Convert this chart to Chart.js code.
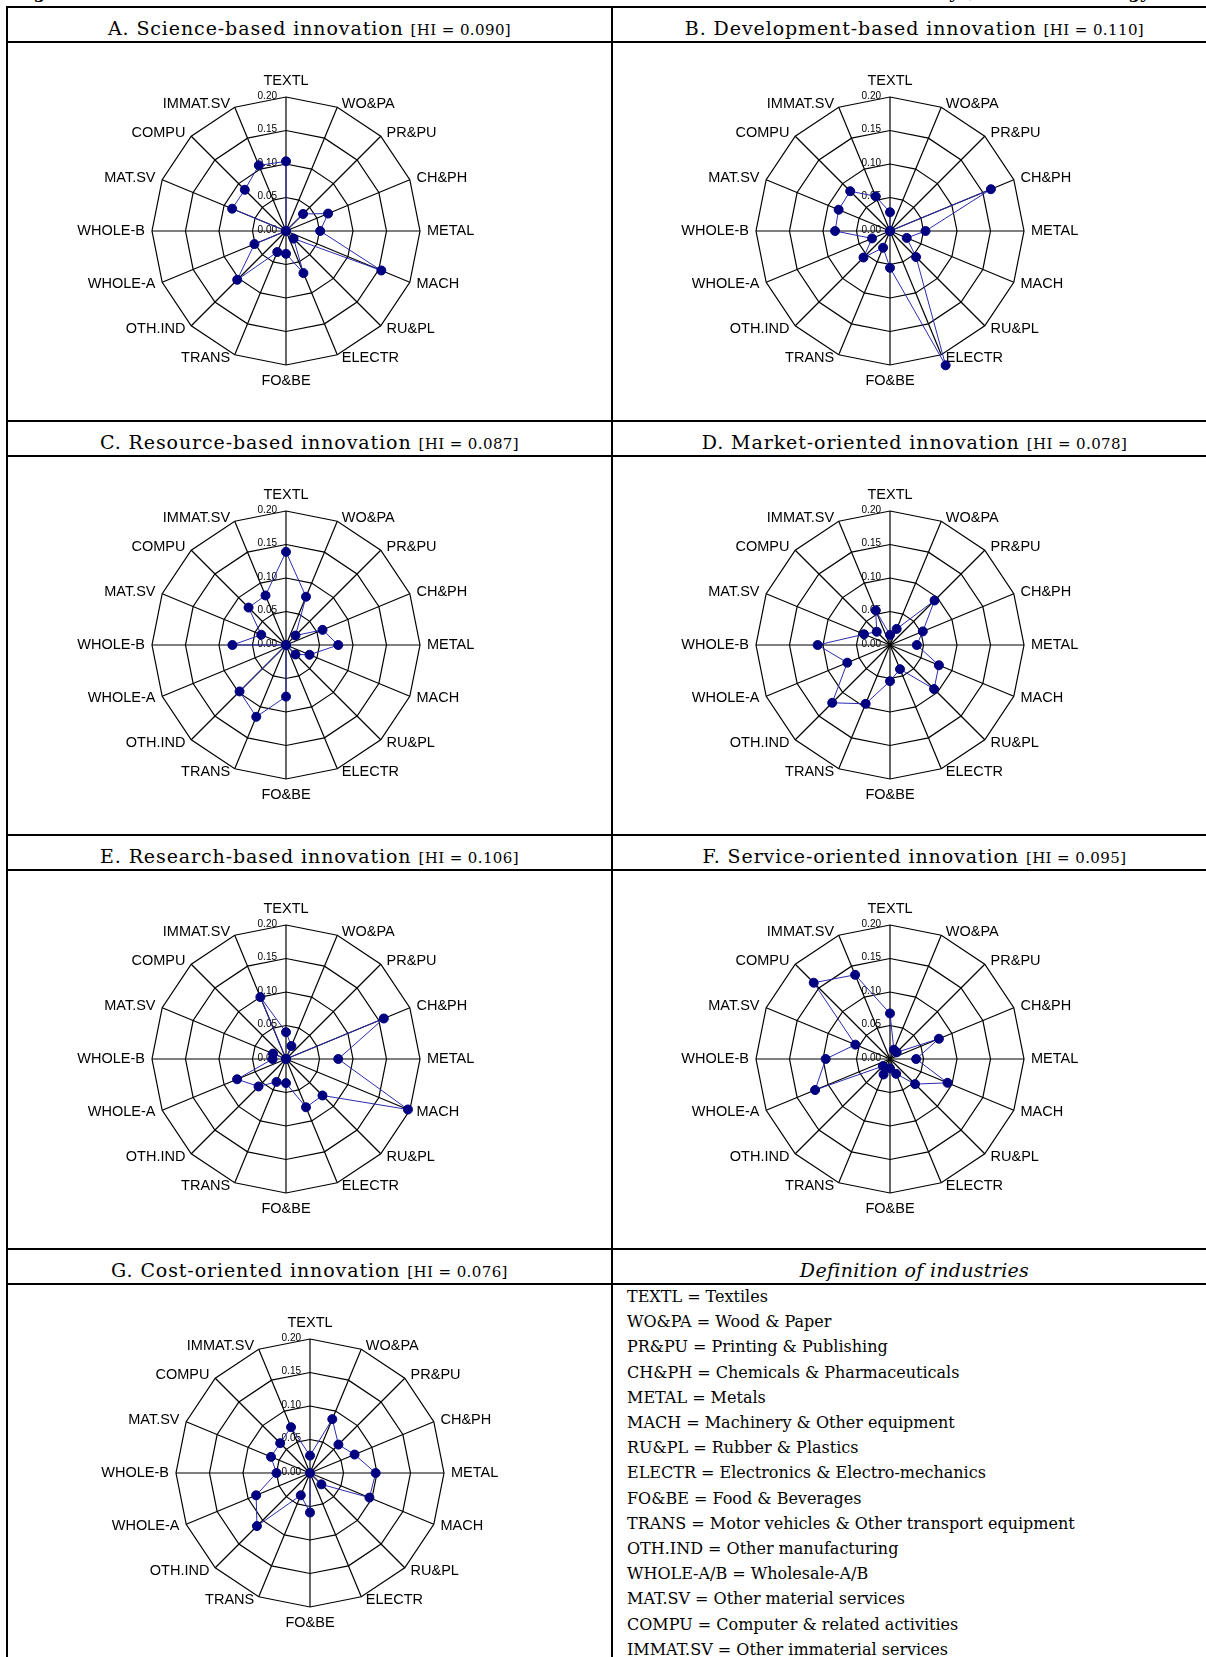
<!DOCTYPE html>
<html>
<head>
<meta charset="utf-8">
<script src="https://cdn.jsdelivr.net/npm/chart.js@4.4.1/dist/chart.umd.min.js"></script>
<style>
body { margin: 0; width: 1206px; height: 1657px; overflow: hidden; background: #fff; position: relative; font-family: "DejaVu Serif", serif; color: #000; }
.hline { position: absolute; left: 6px; width: 1220px; height: 2px; background: #000; }
.vline { position: absolute; width: 2px; background: #000; }
.hdr { position: absolute; height: 33px; line-height: 33px; text-align: center; font-size: 19px; letter-spacing: 0.9px; white-space: nowrap; }
.hdr small { font-size: 15px; line-height: 1; letter-spacing: 0.4px; }
canvas { position: absolute; }
#title { position: absolute; left: 0; top: -18px; width: 1206px; height: 24px; font-size: 17px; font-weight: bold; line-height: 20px; white-space: nowrap; }
#tl { position: absolute; left: 15px; width: 960px; text-align: justify; text-align-last: justify; display: inline-block; }
#tr { position: absolute; right: 56px; }
.legend { position: absolute; left: 627px; top: 1284px; font-size: 16px; line-height: 25.2px; white-space: nowrap; }
</style>
</head>
<body>
<div id="title"><span id="tl">Figure 2. Sectoral distribution of the innovative firms in the seven innovation modes,</span><span id="tr">by innovation strategy</span></div>

<div class="vline" style="left:6px; top:6px; height:1660px;"></div>
<div class="vline" style="left:611px; top:6px; height:1660px;"></div>
<div class="hline" style="top:6px;"></div>
<div class="hline" style="top:41px;"></div>
<div class="hline" style="top:420px;"></div>
<div class="hline" style="top:455px;"></div>
<div class="hline" style="top:834px;"></div>
<div class="hline" style="top:869px;"></div>
<div class="hline" style="top:1248px;"></div>
<div class="hline" style="top:1283px;"></div>

<div class="hdr" style="left:8px; width:603px; top:12px;">A. Science-based innovation <small>[HI = 0.090]</small></div>
<div class="hdr" style="left:613px; width:603px; top:12px;">B. Development-based innovation <small>[HI = 0.110]</small></div>
<div class="hdr" style="left:8px; width:603px; top:426px;">C. Resource-based innovation <small>[HI = 0.087]</small></div>
<div class="hdr" style="left:613px; width:603px; top:426px;">D. Market-oriented innovation <small>[HI = 0.078]</small></div>
<div class="hdr" style="left:8px; width:603px; top:840px;">E. Research-based innovation <small>[HI = 0.106]</small></div>
<div class="hdr" style="left:613px; width:603px; top:840px;">F. Service-oriented innovation <small>[HI = 0.095]</small></div>
<div class="hdr" style="left:8px; width:603px; top:1254px;">G. Cost-oriented innovation <small>[HI = 0.076]</small></div>
<div class="hdr" style="left:613px; width:603px; top:1254px; font-style:italic; letter-spacing:0.3px;">Definition of industries</div>

<canvas id="chartA"></canvas>
<canvas id="chartB"></canvas>
<canvas id="chartC"></canvas>
<canvas id="chartD"></canvas>
<canvas id="chartE"></canvas>
<canvas id="chartF"></canvas>
<canvas id="chartG"></canvas>

<div class="legend" id="legend"></div>

<script>
const industries = ['TEXTL', 'WO&PA', 'PR&PU', 'CH&PH', 'METAL', 'MACH', 'RU&PL', 'ELECTR',
    'FO&BE', 'TRANS', 'OTH.IND', 'WHOLE-A', 'WHOLE-B', 'MAT.SV', 'COMPU', 'IMMAT.SV'];

const tickValues = [0, 0.05, 0.10, 0.15, 0.20];
const tickLabels = ['0.00', '0.05', '0.10', '0.15', '0.20'];

// shares of firms per industry
const scienceBased     = [0.104, 0.000, 0.036, 0.068, 0.051, 0.154, 0.016, 0.068, 0.034, 0.034, 0.103, 0.051, 0.000, 0.087, 0.087, 0.106];
const developmentBased = [0.028, 0.000, 0.000, 0.163, 0.053, 0.027, 0.055, 0.217, 0.055, 0.027, 0.056, 0.029, 0.082, 0.083, 0.084, 0.056];
const resourceBased    = [0.139, 0.078, 0.020, 0.059, 0.078, 0.038, 0.020, 0.000, 0.077, 0.116, 0.098, 0.000, 0.080, 0.040, 0.079, 0.080];
const marketOriented   = [0.015, 0.026, 0.094, 0.053, 0.040, 0.079, 0.093, 0.039, 0.054, 0.095, 0.122, 0.069, 0.108, 0.042, 0.028, 0.056];
const researchBased    = [0.040, 0.021, 0.000, 0.158, 0.078, 0.197, 0.077, 0.078, 0.036, 0.037, 0.058, 0.079, 0.020, 0.021, 0.000, 0.100];
const serviceOriented  = [0.068, 0.015, 0.014, 0.079, 0.039, 0.093, 0.053, 0.024, 0.014, 0.025, 0.015, 0.121, 0.096, 0.056, 0.161, 0.136];
const costOriented     = [0.026, 0.087, 0.060, 0.072, 0.098, 0.096, 0.024, 0.000, 0.059, 0.036, 0.112, 0.087, 0.050, 0.063, 0.063, 0.074];

const definitions = [
    'TEXTL = Textiles',
    'WO&PA = Wood & Paper',
    'PR&PU = Printing & Publishing',
    'CH&PH = Chemicals & Pharmaceuticals',
    'METAL = Metals',
    'MACH = Machinery & Other equipment',
    'RU&PL = Rubber & Plastics',
    'ELECTR = Electronics & Electro-mechanics',
    'FO&BE = Food & Beverages',
    'TRANS = Motor vehicles & Other transport equipment',
    'OTH.IND = Other manufacturing',
    'WHOLE-A/B = Wholesale-A/B',
    'MAT.SV = Other material services',
    'COMPU = Computer & related activities',
    'IMMAT.SV = Other immaterial services'
];

const legendBox = document.getElementById('legend');
definitions.forEach(d => {
    const line = document.createElement('div');
    line.textContent = d;
    legendBox.appendChild(line);
});

const W = 600, H = 380, R = 134;

// tick values and industry names drawn next to the axes, placed through the r scale
const radarText = {
    id: 'radarText',
    beforeDatasetsDraw(chart) {
        const scale = chart.scales.r;
        const ctx = chart.ctx;
        ctx.save();
        ctx.fillStyle = '#000';

        ctx.font = '10px "Liberation Sans", Arial, sans-serif';
        ctx.textAlign = 'right';
        ctx.textBaseline = 'middle';
        tickValues.forEach((v, i) => {
            const p = scale.getPointPosition(0, scale.getDistanceFromCenterForValue(v));
            ctx.fillText(tickLabels[i], p.x - 9, p.y - 1);
        });

        ctx.font = '14.5px "Liberation Sans", Arial, sans-serif';
        industries.forEach((name, i) => {
            const angle = i * 2 * Math.PI / industries.length;
            const s = Math.sin(angle), c = Math.cos(angle);
            const vertex = scale.getPointPosition(i, scale.drawingArea);
            if (Math.abs(s) < 0.01) {
                ctx.textAlign = 'center';
                if (c > 0) {
                    ctx.textBaseline = 'bottom';
                    ctx.fillText(name, vertex.x, vertex.y - 9);
                } else {
                    ctx.textBaseline = 'top';
                    ctx.fillText(name, vertex.x, vertex.y + 9);
                }
            } else {
                const p = scale.getPointPosition(i, scale.drawingArea + 4);
                ctx.textAlign = s > 0 ? 'left' : 'right';
                ctx.textBaseline = 'middle';
                ctx.fillText(name, p.x + (s > 0 ? 3 : -3), p.y);
            }
        });
        ctx.restore();
    }
};

function makeRadar(id, values, cx, cy) {
    const canvas = document.getElementById(id);
    canvas.width = W;
    canvas.height = H;
    canvas.style.left = (cx - W / 2) + 'px';
    canvas.style.top = (cy - H / 2) + 'px';
    new Chart(canvas, {
        type: 'radar',
        data: {
            labels: industries,
            datasets: [{
                data: values,
                borderColor: '#2b2bb0',
                borderWidth: 1,
                pointBackgroundColor: '#000080',
                pointBorderColor: '#000080',
                pointBorderWidth: 1,
                pointRadius: 4.5,
                fill: false,
                clip: false
            }]
        },
        options: {
            responsive: false,
            animation: false,
            events: [],
            layout: {
                padding: { left: W / 2 - R, right: W / 2 - R, top: H / 2 - R, bottom: H / 2 - R }
            },
            plugins: {
                legend: { display: false },
                tooltip: { enabled: false }
            },
            elements: { line: { tension: 0 } },
            scales: {
                r: {
                    min: 0,
                    max: 0.20,
                    startAngle: 0,
                    ticks: { stepSize: 0.05, display: false },
                    grid: { color: '#000', lineWidth: 1.2 },
                    angleLines: { color: '#000', lineWidth: 1.2 },
                    pointLabels: { display: false }
                }
            }
        },
        plugins: [radarText]
    });
}

makeRadar('chartA', scienceBased, 286, 231);
makeRadar('chartB', developmentBased, 890, 231);
makeRadar('chartC', resourceBased, 286, 645);
makeRadar('chartD', marketOriented, 890, 645);
makeRadar('chartE', researchBased, 286, 1059);
makeRadar('chartF', serviceOriented, 890, 1059);
makeRadar('chartG', costOriented, 310, 1473);
</script>
</body>
</html>
